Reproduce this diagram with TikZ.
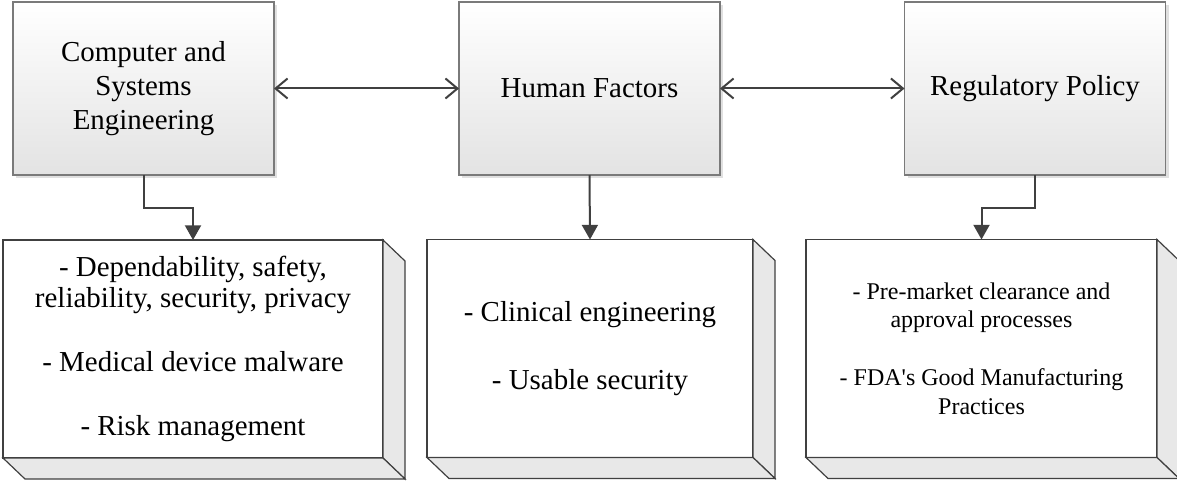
\documentclass[tikz,border=0pt]{standalone}
\usepackage{fontspec}
\setmainfont{Liberation Serif}
\usepackage{tikz}
\usetikzlibrary{arrows.meta, shadows}

\definecolor{linegray}{HTML}{404040}
\definecolor{edgegray}{HTML}{7A7A7A}
\definecolor{facegray}{HTML}{E8E8E8}

\tikzset{
  topbox/.style={draw=edgegray, line width=0.8pt, top color=white, bottom color=black!11,
    minimum width=195.75pt, minimum height=129.75pt, inner sep=0pt, outer sep=0pt,
    align=center, font=\fontsize{21.7}{25.8}\selectfont,
    drop shadow={shadow xshift=2.5pt, shadow yshift=-2.5pt, fill=black!12, opacity=1}},
  listbox/.style={draw=linegray, line width=0.9pt, fill=white,
    minimum height=163.5pt, inner sep=0pt, outer sep=0pt, align=center,
    font=\fontsize{21.7}{23.3}\selectfont},
  link/.style={draw=linegray, line width=1.5pt},
  both/.style={link, {Straight Barb[length=9pt, width=15pt]}-{Straight Barb[length=9pt, width=15pt]}},
  down/.style={link, -{Triangle[length=11pt, width=12pt]}}
}

\begin{document}
\begin{tikzpicture}[x=0.75pt, y=-0.75pt]
    \useasboundingbox (0, 0) rectangle (1177, 481);

    % top row
    \node[topbox] (cse) at (143.5, 88.5) {Computer and\\Systems\\Engineering};
    \node[topbox] (hf)  at (589.5, 88.5) {Human Factors};
    \node[topbox] (reg) at (1035, 88.5) {Regulatory Policy};

    % lists
    \node[listbox, minimum width=285pt] (cse-list) at (193, 349)
      {- Dependability, safety,\\reliability, security, privacy\\[24.7pt]
       - Medical device malware\\[24.7pt]- Risk management};
    \node[listbox, minimum width=244.5pt] (hf-list) at (590, 348.5)
      {- Clinical engineering\\[27.7pt]- Usable security};
    \node[listbox, minimum width=263.25pt, font=\fontsize{18}{21.4}\selectfont] (reg-list) at (981.5, 348.5)
      {- Pre-market clearance and\\approval processes\\[22pt]
       - FDA\textquotesingle s Good Manufacturing\\Practices};

    % side faces of the lists
    \foreach \b in {cse-list, hf-list, reg-list} {
      \filldraw[draw=linegray, fill=facegray, line width=0.9pt]
        (\b.north east) -- ++(22, 21) -- ([shift={(22, 21)}]\b.south east) -- (\b.south east) -- cycle;
      \filldraw[draw=linegray, fill=facegray, line width=0.9pt]
        (\b.south west) -- ([shift={(22, 21)}]\b.south west) -- ([shift={(22, 21)}]\b.south east)
          -- (\b.south east) -- cycle;
    }

    % connectors
    \draw[both] (cse.east) -- (hf.west);
    \draw[both] (hf.east) -- (reg.west);
    \draw[down] (cse.south) -- ++(0, 33) -| (cse-list.north);
    \draw[down] (hf.south) -- (hf-list.north);
    \draw[down] (reg.south) -- ++(0, 33) -| (reg-list.north);
\end{tikzpicture}
\end{document}
